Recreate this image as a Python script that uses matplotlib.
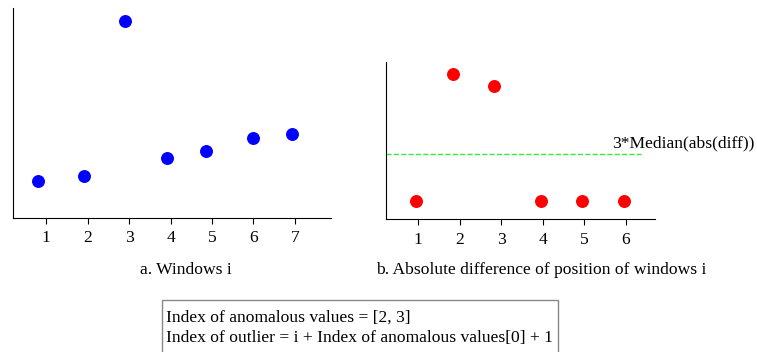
import matplotlib.pyplot as plt
import numpy as np

plt.rcParams['font.family'] = ['Liberation Serif', 'DejaVu Serif']

# panel a: windows i
win_x = [0.81, 1.92, 2.9, 3.92, 4.86, 6.0, 6.93]
win_y = [37, 42, 197, 60, 67, 80, 84]
win_ticks = [1, 2, 3, 4, 5, 6, 7]

# panel b: absolute difference
diff_x = [0.95, 1.84, 2.83, 3.96, 4.94, 5.95]
diff_y = [18, 145, 133, 18, 18, 18]
diff_ticks = [1, 2, 3, 4, 5, 6]
threshold = 65

fs = 12.6

fig = plt.figure(figsize=(7.57, 3.52), dpi=100)

ax1 = fig.add_axes([13/757, 1-218/352, (331-13)/757, (218-8)/352])
ax1.plot(win_x, win_y, 'o', color='#0000ff', markersize=8.3)
ax1.set_xlim(0.2, 7.87)
ax1.set_ylim(0, 210)
ax1.set_xticks(win_ticks)
ax1.set_yticks([])

ax2 = fig.add_axes([386/757, 1-219/352, (655-386)/757, (219-62)/352])
ax2.plot(diff_x, diff_y, 'o', color='#ff0000', markersize=8.3)
ax2.plot([0.23, 6.36], [threshold, threshold], '--', color='#33ee33', linewidth=1)
ax2.text(5.67, threshold + 3, '3*Median(abs(diff))', fontsize=fs, va='bottom', clip_on=False)
ax2.set_xlim(0.23, 6.7)
ax2.set_ylim(0, 157)
ax2.set_xticks(diff_ticks)
ax2.set_yticks([])

for ax in (ax1, ax2):
    ax.spines['top'].set_visible(False)
    ax.spines['right'].set_visible(False)
    ax.tick_params(axis='x', length=4, labelsize=fs, pad=5)

fig.text(186/757, 1-270/352, 'a. Windows i', fontsize=fs, ha='center', va='center')
fig.text(541/757, 1-270/352, 'b. Absolute difference of position of windows i',
         fontsize=fs, ha='center', va='center')

fig.patches.append(plt.Rectangle((162/757, -0.01), (558-162)/757, (352-300)/352 + 0.01,
                                 transform=fig.transFigure, fill=False,
                                 edgecolor='#888888', linewidth=1))
fig.text(166/757, 1-318/352, 'Index of anomalous values = [2, 3]', fontsize=fs, va='center')
fig.text(166/757, 1-338/352, 'Index of outlier = i + Index of anomalous values[0] + 1',
         fontsize=fs, va='center')

fig.savefig('out.png', dpi=100)
